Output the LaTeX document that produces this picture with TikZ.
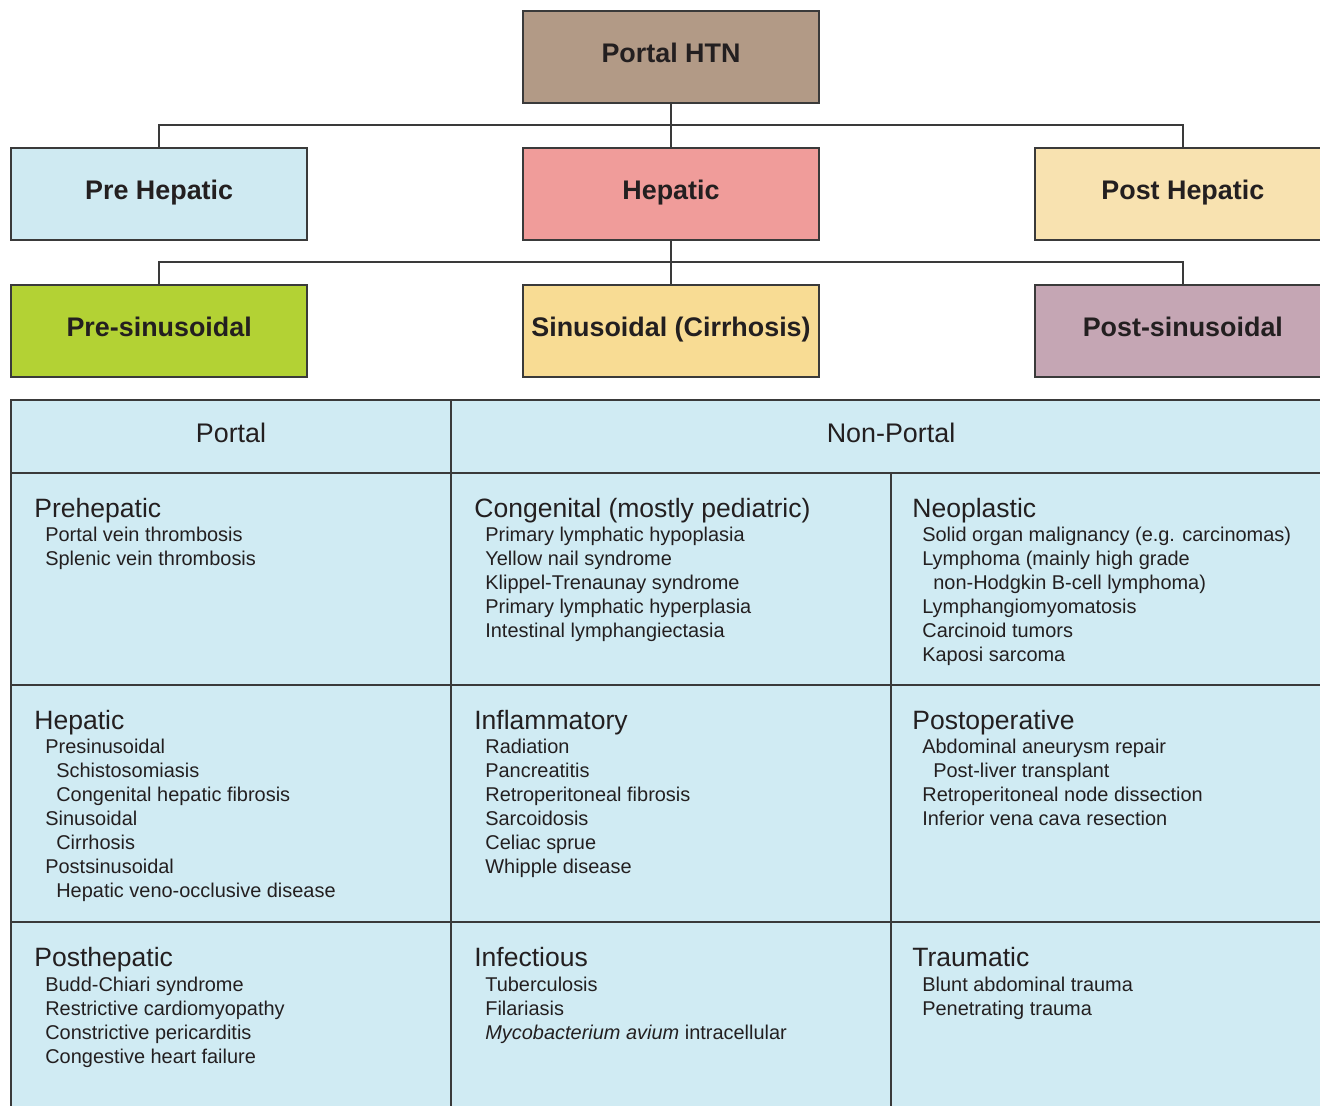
\documentclass[tikz,border=0pt]{standalone}
\usepackage{fontspec}
\setmainfont{Liberation Sans}
\usetikzlibrary{positioning, calc}

\definecolor{htnfill}{HTML}{B29A86}
\definecolor{prefill}{HTML}{CFEAF2}
\definecolor{hepfill}{HTML}{F09C9A}
\definecolor{postfill}{HTML}{F8E2B0}
\definecolor{presinfill}{HTML}{B3D234}
\definecolor{sinfill}{HTML}{F8DC94}
\definecolor{postsinfill}{HTML}{C5A6B4}
\definecolor{tablebg}{HTML}{D0EBF3}
\definecolor{linegray}{HTML}{3A3A3A}
\definecolor{textdark}{HTML}{231F20}

\newcommand{\subind}{\hspace*{0.22cm}}

\begin{document}
\begin{tikzpicture}[
    x=0.02cm, y=-0.02cm,
    node distance=0.86cm and 4.28cm,
    % Styles
    box/.style={draw=linegray, line width=1.1pt, rectangle, align=center, minimum width=5.92cm, minimum height=1.84cm, inner sep=0pt, text height=10.9pt, text depth=4.6pt, text=textdark, font=\fontsize{15.3}{18}\selectfont\bfseries},
    wire/.style={draw=linegray, line width=1.1pt},
    rule/.style={draw=linegray, line width=1.1pt},
    colhead/.style={inner sep=0pt, text=textdark, font=\fontsize{15.3}{18}\selectfont},
    cellhead/.style={anchor=base west, inner sep=0pt, text=textdark, font=\fontsize{15.1}{18}\selectfont},
    items/.style={anchor=north west, align=left, inner sep=0pt, text=textdark, font=\fontsize{11.35}{13.6}\selectfont}
]
    \useasboundingbox (0,0) rectangle (1320,1106);
    \clip (0,0) rectangle (1320,1106);

    % --- ROW 1 ---
    \node[box, fill=htnfill] (htn) at (671,57) {Portal HTN};

    % --- ROW 2 ---
    \node[box, fill=hepfill, below=of htn] (hep) {Hepatic};
    \node[box, fill=prefill, left=of hep] (prehep) {Pre Hepatic};
    \node[box, fill=postfill, right=of hep] (posthep) {Post Hepatic};

    % --- ROW 3 ---
    \node[box, fill=sinfill, below=of hep] (sin) {Sinusoidal (Cirrhosis)};
    \node[box, fill=presinfill, left=of sin] (presin) {Pre-sinusoidal};
    \node[box, fill=postsinfill, right=of sin] (postsin) {Post-sinusoidal};

    % --- CONNECTIONS ---
    \coordinate (fork1) at ($(htn.south)!0.5!(hep.north)$);
    \coordinate (fork2) at ($(hep.south)!0.5!(sin.north)$);
    \draw[wire] (htn.south) -- (hep.north);
    \draw[wire] (prehep.north) |- (fork1) -| (posthep.north);
    \draw[wire] (hep.south) -- (sin.north);
    \draw[wire] (presin.north) |- (fork2) -| (postsin.north);

    % --- TABLE ---
    \fill[tablebg] (11,400) rectangle (1331,1130);
    \draw[rule] (11,1130) -- (11,400) -- (1331,400);
    \draw[rule] (11,473) -- (1331,473);
    \draw[rule] (11,685) -- (1331,685);
    \draw[rule] (11,922) -- (1331,922);
    \draw[rule] (451,400) -- (451,1130);
    \draw[rule] (891,473) -- (891,1130);

    % Column heads
    \node[colhead] (portal) at (231,433) {Portal};
    \node[colhead] (nonportal) at (891,433) {Non-Portal};

    % --- TABLE ROW 1 ---
    \node[cellhead] (prehepatic) at (34,517) {Prehepatic};
    \node[items] (prehepaticlist) at (45,527) {Portal vein thrombosis\\Splenic vein thrombosis};

    \node[cellhead] (congenital) at (474,517) {Congenital (mostly pediatric)};
    \node[items] (congenitallist) at (485,527) {Primary lymphatic hypoplasia\\Yellow nail syndrome\\Klippel-Trenaunay syndrome\\Primary lymphatic hyperplasia\\Intestinal lymphangiectasia};

    \node[cellhead] (neoplastic) at (912,517) {Neoplastic};
    \node[items] (neoplasticlist) at (922,527) {Solid organ malignancy (e.g. carcinomas)\\Lymphoma (mainly high grade\\\subind non-Hodgkin B-cell lymphoma)\\Lymphangiomyomatosis\\Carcinoid tumors\\Kaposi sarcoma};

    % --- TABLE ROW 2 ---
    \node[cellhead] (hepatic) at (34,729) {Hepatic};
    \node[items] (hepaticlist) at (45,739) {Presinusoidal\\\subind Schistosomiasis\\\subind Congenital hepatic fibrosis\\Sinusoidal\\\subind Cirrhosis\\Postsinusoidal\\\subind Hepatic veno-occlusive disease};

    \node[cellhead] (inflammatory) at (474,729) {Inflammatory};
    \node[items] (inflammatorylist) at (485,739) {Radiation\\Pancreatitis\\Retroperitoneal fibrosis\\Sarcoidosis\\Celiac sprue\\Whipple disease};

    \node[cellhead] (postoperative) at (912,729) {Postoperative};
    \node[items] (postoperativelist) at (922,739) {Abdominal aneurysm repair\\\subind Post-liver transplant\\Retroperitoneal node dissection\\Inferior vena cava resection};

    % --- TABLE ROW 3 ---
    \node[cellhead] (posthepatic) at (34,966) {Posthepatic};
    \node[items] (posthepaticlist) at (45,977) {Budd-Chiari syndrome\\Restrictive cardiomyopathy\\Constrictive pericarditis\\Congestive heart failure};

    \node[cellhead] (infectious) at (474,966) {Infectious};
    \node[items] (infectiouslist) at (485,977) {Tuberculosis\\Filariasis\\\textit{Mycobacterium avium} intracellular};

    \node[cellhead] (traumatic) at (912,966) {Traumatic};
    \node[items] (traumaticlist) at (922,977) {Blunt abdominal trauma\\Penetrating trauma};

\end{tikzpicture}
\end{document}
